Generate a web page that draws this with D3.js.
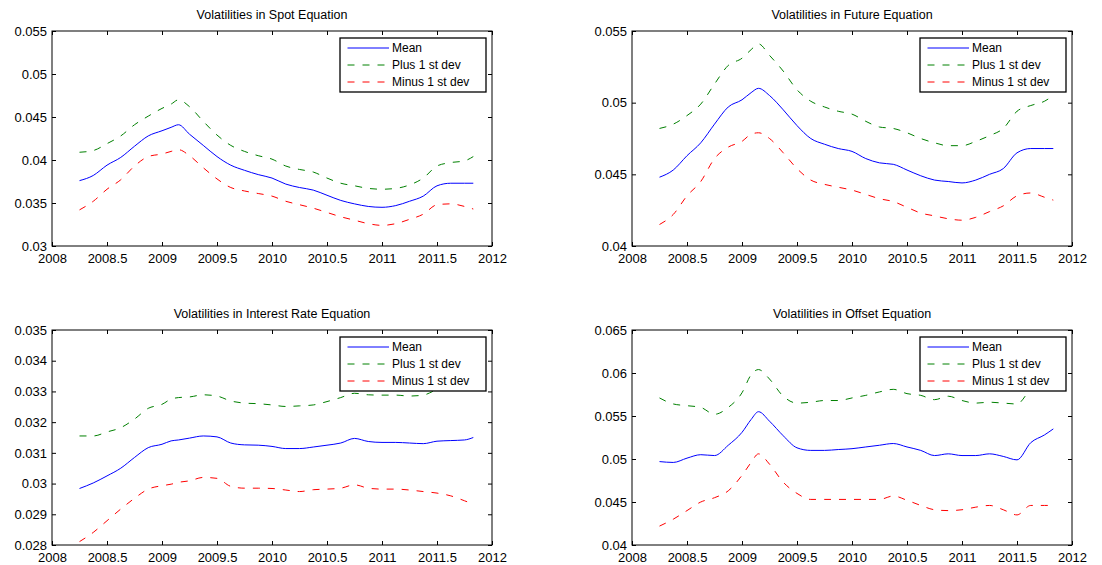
<!DOCTYPE html>
<html>
<head>
<meta charset="utf-8">
<script src="https://cdn.jsdelivr.net/npm/d3@7"></script>
<style>
  html, body { margin: 0; padding: 0; background: #fff; }
  svg { display: block; }
  text { font-family: "Liberation Sans", Arial, Helvetica, sans-serif; fill: #000; }
</style>
</head>
<body>
<svg id="chart" width="1102" height="565"></svg>
<script>
// Sample dates (decimal years)
const years = [2008.25, 2008.375, 2008.5, 2008.625, 2008.75, 2008.875, 2009, 2009.083, 2009.15,
  2009.25, 2009.375, 2009.5, 2009.625, 2009.75, 2009.875, 2010, 2010.125, 2010.25, 2010.375,
  2010.5, 2010.625, 2010.75, 2010.875, 2011, 2011.125, 2011.25, 2011.375, 2011.5, 2011.625,
  2011.75, 2011.83];

// Spot equation volatilities
const spotMean = [0.0376, 0.0382, 0.0394, 0.0403, 0.0416, 0.0428, 0.0434, 0.0438, 0.0441,
  0.0430, 0.0417, 0.0404, 0.0394, 0.0388, 0.0383, 0.0379, 0.0372, 0.0368, 0.0365,
  0.0359, 0.0353, 0.0349, 0.0346, 0.0345, 0.0347, 0.0352, 0.0358, 0.0370, 0.0373,
  0.0373, 0.0373];
const spotPlus = [0.0409, 0.0411, 0.0419, 0.0428, 0.0441, 0.0451, 0.0460, 0.0465, 0.0470,
  0.0462, 0.0445, 0.0429, 0.0417, 0.0410, 0.0405, 0.0401, 0.0393, 0.0389, 0.0386,
  0.0379, 0.0373, 0.0370, 0.0367, 0.0366, 0.0367, 0.0371, 0.0379, 0.0393, 0.0397,
  0.0399, 0.0404];
const spotMinus = [0.0342, 0.0352, 0.0366, 0.0377, 0.0393, 0.0404, 0.0407, 0.0410, 0.0412,
  0.0405, 0.0391, 0.0378, 0.0368, 0.0364, 0.0361, 0.0358, 0.0352, 0.0348, 0.0344,
  0.0339, 0.0334, 0.0330, 0.0326, 0.0324, 0.0326, 0.0331, 0.0337, 0.0348, 0.0349,
  0.0346, 0.0343];

// Future equation volatilities
const futureMean = [0.0448, 0.0453, 0.0463, 0.0472, 0.0485, 0.0497, 0.0502, 0.0507, 0.0510,
  0.0505, 0.0495, 0.0484, 0.0475, 0.0471, 0.0468, 0.0466, 0.0461, 0.0458, 0.0457,
  0.0453, 0.0449, 0.0446, 0.0445, 0.0444, 0.0446, 0.0450, 0.0454, 0.0465, 0.0468,
  0.0468, 0.0468];
const futurePlus = [0.0482, 0.0485, 0.0491, 0.0499, 0.0513, 0.0526, 0.0531, 0.0537, 0.0541,
  0.0533, 0.0522, 0.0509, 0.0501, 0.0497, 0.0494, 0.0492, 0.0487, 0.0483, 0.0482,
  0.0479, 0.0475, 0.0472, 0.0470, 0.0470, 0.0473, 0.0477, 0.0482, 0.0494, 0.0498,
  0.0501, 0.0505];
const futureMinus = [0.0415, 0.0422, 0.0435, 0.0445, 0.0461, 0.0469, 0.0473, 0.0478, 0.0479,
  0.0475, 0.0465, 0.0454, 0.0446, 0.0443, 0.0441, 0.0439, 0.0436, 0.0433, 0.0431,
  0.0427, 0.0423, 0.0421, 0.0419, 0.0418, 0.0420, 0.0424, 0.0428, 0.0435, 0.0437,
  0.0434, 0.0432];

// Interest rate equation volatilities
const rateMean = [0.02984, 0.03002, 0.03025, 0.03050, 0.03085, 0.03117, 0.03128, 0.03139, 0.03142,
  0.03148, 0.03155, 0.03152, 0.03132, 0.03126, 0.03125, 0.03121, 0.03114, 0.03114, 0.03119,
  0.03125, 0.03132, 0.03147, 0.03137, 0.03134, 0.03134, 0.03132, 0.03130, 0.03138, 0.03140,
  0.03142, 0.03150];
const ratePlus = [0.03155, 0.03155, 0.03168, 0.03182, 0.03210, 0.03245, 0.03258, 0.03275, 0.03280,
  0.03282, 0.03289, 0.03285, 0.03269, 0.03262, 0.03260, 0.03256, 0.03251, 0.03253, 0.03256,
  0.03267, 0.03280, 0.03294, 0.03289, 0.03288, 0.03288, 0.03285, 0.03288, 0.03305, 0.03310,
  0.03314, 0.03318];
const rateMinus = [0.02811, 0.02841, 0.02879, 0.02917, 0.02952, 0.02982, 0.02993, 0.02998, 0.03004,
  0.03009, 0.03020, 0.03017, 0.02991, 0.02985, 0.02985, 0.02984, 0.02979, 0.02974, 0.02980,
  0.02982, 0.02985, 0.02996, 0.02985, 0.02982, 0.02982, 0.02979, 0.02974, 0.02969, 0.02960,
  0.02944, 0.02933];

// Offset equation volatilities
const offsetMean = [0.0497, 0.0496, 0.0501, 0.0505, 0.0504, 0.0516, 0.0531, 0.0546, 0.0555,
  0.0544, 0.0527, 0.0513, 0.0510, 0.0510, 0.0511, 0.0512, 0.0514, 0.0516, 0.0518,
  0.0514, 0.0510, 0.0504, 0.0506, 0.0504, 0.0504, 0.0506, 0.0503, 0.0499, 0.0519,
  0.0528, 0.0535];
const offsetPlus = [0.0571, 0.0564, 0.0562, 0.0560, 0.0552, 0.0560, 0.0577, 0.0598, 0.0604,
  0.0593, 0.0573, 0.0565, 0.0566, 0.0568, 0.0568, 0.0571, 0.0574, 0.0578, 0.0581,
  0.0576, 0.0574, 0.0569, 0.0573, 0.0568, 0.0565, 0.0566, 0.0565, 0.0564, 0.0581,
  0.0589, 0.0593];
const offsetMinus = [0.0422, 0.0430, 0.0440, 0.0450, 0.0455, 0.0463, 0.0481, 0.0496, 0.0506,
  0.0494, 0.0473, 0.0460, 0.0453, 0.0453, 0.0453, 0.0453, 0.0453, 0.0453, 0.0457,
  0.0452, 0.0446, 0.0441, 0.0440, 0.0441, 0.0444, 0.0446, 0.0441, 0.0435, 0.0446,
  0.0446, 0.0446];

// Axis ticks
const xTicks = [2008, 2008.5, 2009, 2009.5, 2010, 2010.5, 2011, 2011.5, 2012];
const spotTicks = [0.03, 0.035, 0.04, 0.045, 0.05, 0.055];
const futureTicks = [0.04, 0.045, 0.05, 0.055];
const rateTicks = [0.028, 0.029, 0.03, 0.031, 0.032, 0.033, 0.034, 0.035];
const offsetTicks = [0.04, 0.045, 0.05, 0.055, 0.06, 0.065];

const seriesNames = ["Mean", "Plus 1 st dev", "Minus 1 st dev"];
const titles = ["Volatilities in Spot Equation", "Volatilities in Future Equation",
  "Volatilities in Interest Rate Equation", "Volatilities in Offset Equation"];

const panels = [
  { title: titles[0], data: [spotMean, spotPlus, spotMinus], ticks: spotTicks, left: 52, top: 31 },
  { title: titles[1], data: [futureMean, futurePlus, futureMinus], ticks: futureTicks, left: 632, top: 31 },
  { title: titles[2], data: [rateMean, ratePlus, rateMinus], ticks: rateTicks, left: 52, top: 330 },
  { title: titles[3], data: [offsetMean, offsetPlus, offsetMinus], ticks: offsetTicks, left: 632, top: 330 }
];

const styles = [
  { color: "#0000ff", dash: null },
  { color: "#008000", dash: "7,8" },
  { color: "#ff0000", dash: "7,8" }
];

const W = 440, H = 215;
const svg = d3.select("#chart");
svg.append("rect").attr("width", 1102).attr("height", 565).attr("fill", "#fff");

panels.forEach(p => {
  const g = svg.append("g").attr("transform", `translate(${p.left},${p.top})`);
  const x = d3.scaleLinear().domain([2008, 2012]).range([0, W]);
  const y = d3.scaleLinear().domain([p.ticks[0], p.ticks[p.ticks.length - 1]]).range([H, 0]);

  // Axes with inward ticks on all four sides
  const fmt = d => String(+d.toFixed(4));
  g.append("g").attr("class", "axis").attr("transform", `translate(0,${H})`)
    .call(d3.axisBottom(x).tickValues(xTicks).tickFormat(fmt).tickSizeInner(-4).tickSizeOuter(0).tickPadding(8));
  g.append("g").attr("class", "axis")
    .call(d3.axisTop(x).tickValues(xTicks).tickFormat("").tickSizeInner(-4).tickSizeOuter(0));
  g.append("g").attr("class", "axis")
    .call(d3.axisLeft(y).tickValues(p.ticks).tickFormat(fmt).tickSizeInner(-4).tickSizeOuter(0).tickPadding(5));
  g.append("g").attr("class", "axis").attr("transform", `translate(${W},0)`)
    .call(d3.axisRight(y).tickValues(p.ticks).tickFormat("").tickSizeInner(-4).tickSizeOuter(0));

  g.selectAll(".axis .domain").remove();
  g.selectAll(".axis line").attr("stroke", "#000").attr("stroke-width", 1);
  g.selectAll(".axis text").attr("font-size", 13).attr("fill", "#000")
    .style("font-family", "'Liberation Sans', Arial, sans-serif");

  // Series lines
  const line = d3.line().x((d, i) => x(years[i])).y(d => y(d)).curve(d3.curveMonotoneX);
  p.data.forEach((vals, k) => {
    g.append("path").datum(vals)
      .attr("d", line)
      .attr("fill", "none")
      .attr("stroke", styles[k].color)
      .attr("stroke-width", 1)
      .attr("stroke-dasharray", styles[k].dash);
  });

  // Frame
  g.append("rect").attr("x", 0).attr("y", 0).attr("width", W).attr("height", H)
    .attr("fill", "none").attr("stroke", "#000").attr("stroke-width", 1);

  // Title
  g.append("text").attr("x", W / 2).attr("y", -12).attr("text-anchor", "middle")
    .attr("font-size", 12.5).text(p.title);

  // Legend
  const lg = g.append("g").attr("transform", `translate(${W - 152},7)`);
  lg.append("rect").attr("width", 146).attr("height", 54)
    .attr("fill", "#fff").attr("stroke", "#000").attr("stroke-width", 1.3);
  seriesNames.forEach((name, k) => {
    const yy = 10 + k * 17;
    lg.append("line").attr("x1", 7.5).attr("x2", 49).attr("y1", yy).attr("y2", yy)
      .attr("stroke", styles[k].color).attr("stroke-width", 1)
      .attr("stroke-dasharray", styles[k].dash);
    lg.append("text").attr("x", 52).attr("y", yy).attr("dy", "0.36em")
      .attr("font-size", 12).text(name);
  });
});
</script>
</body>
</html>
